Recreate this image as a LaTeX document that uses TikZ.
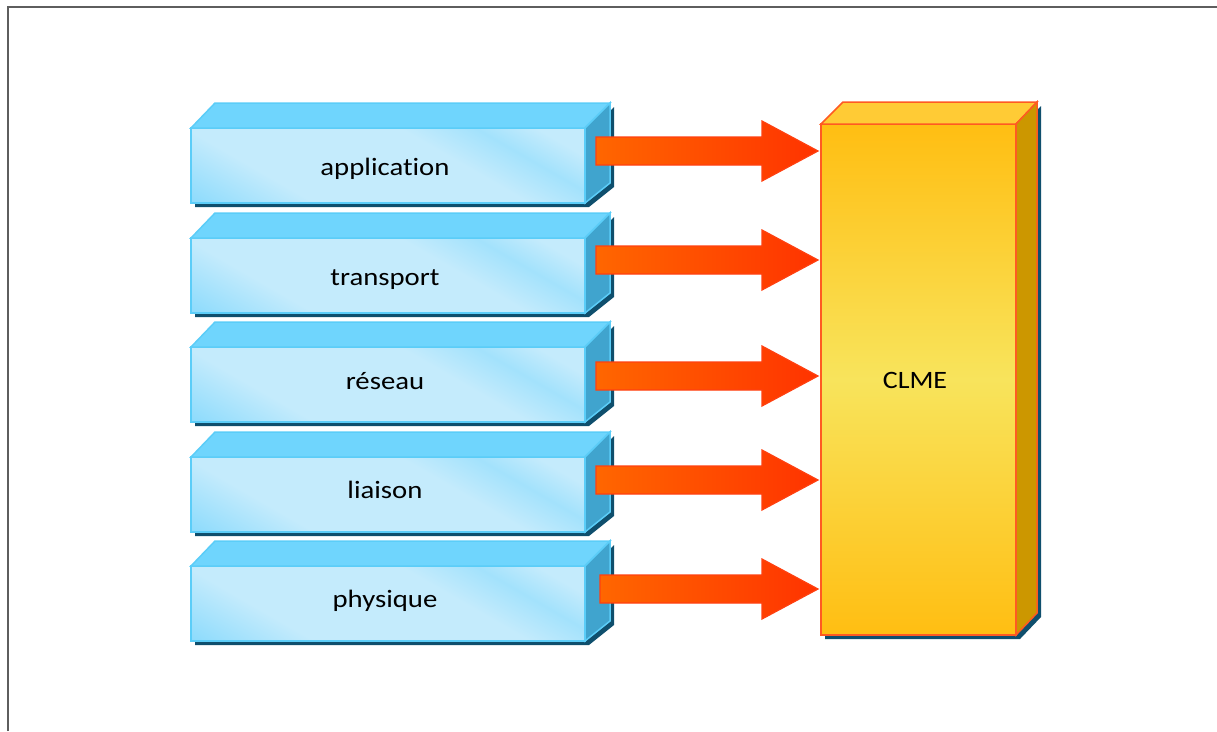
\documentclass[tikz,border=0pt]{standalone}
\usepackage{fontspec}
\setmainfont[Ligatures=NoCommon]{Carlito}
\usetikzlibrary{calc}
\definecolor{frameg}{HTML}{5E5E5E}
\definecolor{bluetop}{HTML}{6FD5FD}
\definecolor{blueside}{HTML}{40A4CE}
\definecolor{blueline}{HTML}{5BCDF8}
\definecolor{bluelight}{HTML}{C4EBFC}
\definecolor{bluedeep}{HTML}{55CBFC}
\definecolor{bluemid}{HTML}{A3E2FC}
\definecolor{shadowc}{HTML}{0F4F6D}
\definecolor{arrowa}{HTML}{FF6600}
\definecolor{arrowb}{HTML}{FF3300}
\definecolor{arrowline}{HTML}{FF4010}
\definecolor{yelA}{HTML}{FFBE12}
\definecolor{yelB}{HTML}{F8E45C}
\definecolor{yeltop}{HTML}{FFCB35}
\definecolor{yelside}{HTML}{CC9700}
\definecolor{yelline}{HTML}{FF5A22}
\pgfdeclarehorizontalshading{bluefrontsh}{100bp}{
  color(0bp)=(bluedeep); color(32bp)=(bluelight); color(60bp)=(bluelight);
  color(70bp)=(bluemid); color(78bp)=(bluelight); color(100bp)=(bluelight)}
\tikzset{
  layertext/.style={font=\fontsize{25}{30}\selectfont, text=black, anchor=base, inner sep=0pt},
  bluefront/.style={draw=blueline, line width=1.5pt, shading=bluefrontsh, shading angle=60},
  bluetopface/.style={draw=blueline, line width=1.5pt, fill=bluetop},
  bluesideface/.style={draw=blueline, line width=1.5pt, fill=blueside},
  shadowface/.style={fill=shadowc},
  bigarrow/.style={draw=arrowline, line width=1.2pt, left color=arrowa, right color=arrowb},
  yelfront/.style={draw=yelline, line width=1.5pt, top color=yelA, bottom color=yelA, middle color=yelB},
  yeltopface/.style={draw=yelline, line width=1.5pt, fill=yeltop},
  yelsideface/.style={draw=yelline, line width=1.5pt, fill=yelside},
}
\begin{document}
\begin{tikzpicture}[x=1pt,y=-1pt]
\useasboundingbox (0,0) rectangle (1217,731);
% frame
\draw[frameg, line width=2pt] (8,731) -- (8,7) -- (1217,7);

% layers
\foreach \ty/\by/\txt/\nm in {128/175/application/app, 238/285/transport/tra, 347/389/réseau/res, 457/498/liaison/lia, 566/607/physique/phy}{
  \fill[shadowface] (195,\ty+4) -- (589,\ty+4) -- (614,\ty-21) -- (614,\ty+59) -- (589,\ty+79) -- (195,\ty+79) -- cycle;
  \draw[bluefront] (191,\ty) rectangle (585,\ty+75);
  \draw[bluetopface] (191,\ty) -- (215,\ty-25) -- (610,\ty-25) -- (585,\ty) -- cycle;
  \draw[bluesideface] (585,\ty) -- (610,\ty-25) -- (610,\ty+55) -- (585,\ty+75) -- cycle;
  \node[layertext] (\nm) at (385,\by) {\scalebox{1.15}[1]{\txt}};
}

% CLME box
\fill[shadowface] (825,128) -- (1020,128) -- (1041,106) -- (1041,617) -- (1020,639) -- (825,639) -- cycle;
\draw[yelfront] (821,124) rectangle (1016,635);
\draw[yeltopface] (821,124) -- (843,102) -- (1037,102) -- (1016,124) -- cycle;
\draw[yelsideface] (1016,124) -- (1037,102) -- (1037,613) -- (1016,635) -- cycle;
\node[layertext] (clme) at (915,388) {\scalebox{1.12}[1]{CLME}};

% arrows
\foreach \cy/\sx in {151/596, 260/596, 376/596, 480/596, 589/600}{
  \draw[bigarrow] (\sx,\cy-14) -- (762,\cy-14) -- (762,\cy-30) -- (818,\cy)
     -- (762,\cy+30) -- (762,\cy+14) -- (\sx,\cy+14) -- cycle;
}
\end{tikzpicture}
\end{document}
